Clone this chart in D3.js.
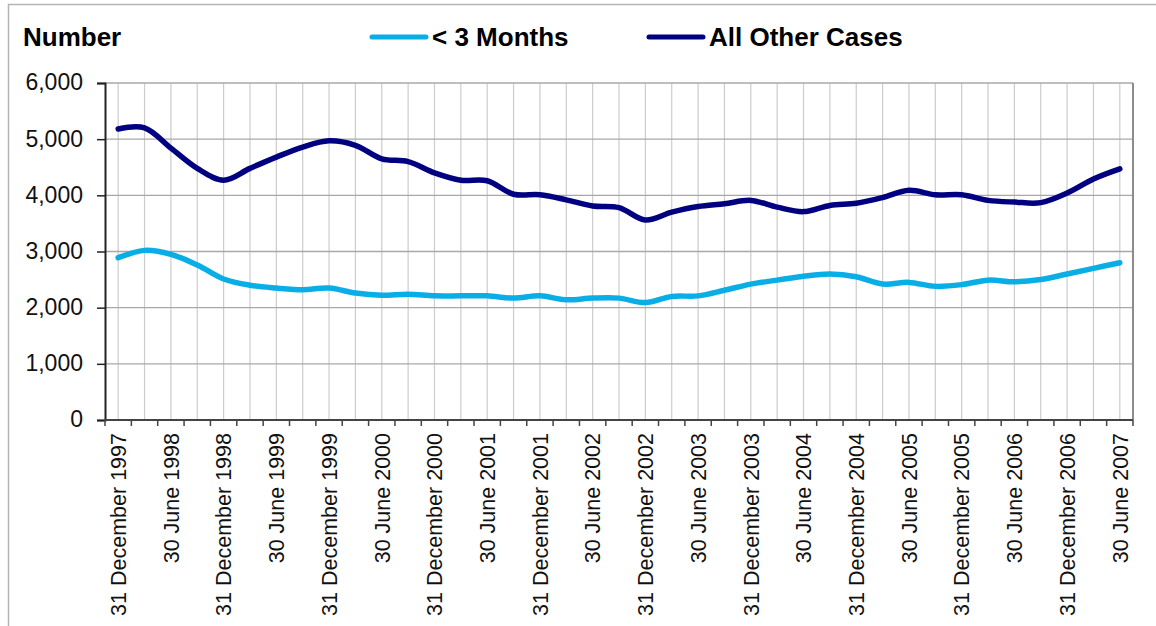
<!DOCTYPE html>
<html>
<head>
<meta charset="utf-8">
<script src="https://cdn.jsdelivr.net/npm/d3@7"></script>
<style>
    body { margin: 0; background: #fff; }
    svg { display: block; font-family: "Liberation Sans", Arial, sans-serif; }
</style>
</head>
<body>
<div class="chart-container"></div>
<script>
var quarters = [
    "31 December 1997", "31 March 1998", "30 June 1998", "30 September 1998",
    "31 December 1998", "31 March 1999", "30 June 1999", "30 September 1999",
    "31 December 1999", "31 March 2000", "30 June 2000", "30 September 2000",
    "31 December 2000", "31 March 2001", "30 June 2001", "30 September 2001",
    "31 December 2001", "31 March 2002", "30 June 2002", "30 September 2002",
    "31 December 2002", "31 March 2003", "30 June 2003", "30 September 2003",
    "31 December 2003", "31 March 2004", "30 June 2004", "30 September 2004",
    "31 December 2004", "31 March 2005", "30 June 2005", "30 September 2005",
    "31 December 2005", "31 March 2006", "30 June 2006", "30 September 2006",
    "31 December 2006", "31 March 2007", "30 June 2007"
];

var underThreeMonths = [
    2890, 3020, 2950, 2760, 2510, 2400, 2350, 2320, 2350, 2260,
    2220, 2240, 2210, 2210, 2210, 2170, 2210, 2140, 2170, 2170,
    2090, 2200, 2210, 2310, 2420, 2490, 2560, 2600, 2550, 2420,
    2450, 2380, 2410, 2490, 2460, 2500, 2600, 2700, 2800
];

var allOtherCases = [
    5180, 5200, 4840, 4480, 4270, 4480, 4680, 4860, 4970, 4890,
    4650, 4600, 4400, 4270, 4260, 4020, 4010, 3920, 3810, 3780,
    3560, 3700, 3800, 3850, 3910, 3790, 3710, 3820, 3860, 3960,
    4090, 4010, 4010, 3910, 3880, 3870, 4040, 4290, 4470
];

var seriesNames = ["< 3 Months", "All Other Cases"];
var seriesColors = ["#0aaee6", "#000080"];
var yTicks = [0, 1000, 2000, 3000, 4000, 5000, 6000];

var chart = {
    draw: function () {
        this.defineComponents();
        this.addFrame();
        this.addGrid();
        this.addAxises();
        this.addLines();
        this.addLegend();
    },
    defineComponents: function () {
        this.width = 1156;
        this.height = 626;
        this.plot = { left: 105, right: 1133, top: 83, bottom: 420 };

        this.svg = d3.select(".chart-container")
            .append("svg")
            .attr("width", this.width)
            .attr("height", this.height);

        this.xScale = d3.scalePoint()
            .domain(quarters)
            .range([this.plot.left, this.plot.right])
            .padding(0.5);

        this.yScale = d3.scaleLinear()
            .domain([0, 6000])
            .range([this.plot.bottom, this.plot.top]);

        this.series = [underThreeMonths, allOtherCases].map(function (values, i) {
            return {
                name: seriesNames[i],
                color: seriesColors[i],
                values: values.map(function (v, j) {
                    return { quarter: quarters[j], value: v };
                })
            };
        });
    },
    addFrame: function () {
        // outer chart border, runs off the right and bottom of the picture
        this.svg.append("rect")
            .attr("x", 8.5)
            .attr("y", 4.5)
            .attr("width", 1200)
            .attr("height", 700)
            .attr("fill", "none")
            .attr("stroke", "#b4b4b4")
            .attr("stroke-width", 1.5);
    },
    addGrid: function () {
        var that = this;
        var p = this.plot;

        // vertical grid lines sit on the data points
        this.svg.selectAll(".vgrid")
            .data(quarters)
            .enter()
            .append("line")
            .attr("x1", function (d) { return that.xScale(d); })
            .attr("x2", function (d) { return that.xScale(d); })
            .attr("y1", p.top)
            .attr("y2", p.bottom)
            .attr("stroke", "#cccccc")
            .attr("stroke-width", 1.2);

        this.svg.selectAll(".hgrid")
            .data(yTicks)
            .enter()
            .append("line")
            .attr("x1", p.left)
            .attr("x2", p.right)
            .attr("y1", function (d) { return that.yScale(d); })
            .attr("y2", function (d) { return that.yScale(d); })
            .attr("stroke", "#a8a8a8")
            .attr("stroke-width", 1.3);

        // right edge of the plot area
        this.svg.append("line")
            .attr("x1", p.right)
            .attr("x2", p.right)
            .attr("y1", p.top)
            .attr("y2", p.bottom)
            .attr("stroke", "#8c8c8c")
            .attr("stroke-width", 2);
    },
    addAxises: function () {
        var that = this;
        var p = this.plot;
        var step = this.xScale.step();

        // y axis
        var yAxis = d3.axisLeft(this.yScale)
            .tickValues(yTicks)
            .tickSize(8)
            .tickPadding(14)
            .tickFormat(d3.format(","));

        var yg = this.svg.append("g")
            .attr("transform", "translate(" + p.left + ",0)")
            .call(yAxis);
        yg.select(".domain").attr("stroke", "#222").attr("stroke-width", 2);
        yg.selectAll(".tick line").attr("stroke", "#222").attr("stroke-width", 1.5);
        yg.selectAll(".tick text")
            .attr("font-size", "23px")
            .attr("fill", "#111")
            .attr("dy", "0.3em");

        // x axis: ticks between categories, label on every second quarter
        this.svg.append("line")
            .attr("x1", p.left)
            .attr("x2", p.right)
            .attr("y1", p.bottom)
            .attr("y2", p.bottom)
            .attr("stroke", "#444")
            .attr("stroke-width", 2);

        this.svg.selectAll(".xtick")
            .data(d3.range(quarters.length + 1))
            .enter()
            .append("line")
            .attr("x1", function (d) { return p.left + d * step; })
            .attr("x2", function (d) { return p.left + d * step; })
            .attr("y1", p.bottom)
            .attr("y2", p.bottom + 6)
            .attr("stroke", "#444")
            .attr("stroke-width", 1.5);

        this.svg.selectAll(".xlabel")
            .data(quarters.filter(function (d, i) { return i % 2 === 0; }))
            .enter()
            .append("text")
            .attr("transform", function (d) {
                return "translate(" + that.xScale(d) + "," + (p.bottom + 13) + ") rotate(-90)";
            })
            .attr("dy", "0.36em")
            .style("text-anchor", "end")
            .attr("font-size", "21.5px")
            .attr("fill", "#111")
            .text(function (d) { return d; });

        // axis title
        this.svg.append("text")
            .attr("x", 23)
            .attr("y", 46)
            .attr("font-size", "26px")
            .attr("font-weight", "bold")
            .attr("fill", "#000")
            .text("Number");
    },
    addLines: function () {
        var that = this;
        var line = d3.line()
            .curve(d3.curveCatmullRom.alpha(0.5))
            .x(function (d) { return that.xScale(d.quarter); })
            .y(function (d) { return that.yScale(d.value); });

        this.svg.selectAll(".series")
            .data(this.series)
            .enter()
            .append("path")
            .attr("fill", "none")
            .attr("stroke", function (d) { return d.color; })
            .attr("stroke-width", 5.5)
            .attr("stroke-linecap", "round")
            .attr("stroke-linejoin", "round")
            .attr("d", function (d) { return line(d.values); });
    },
    addLegend: function () {
        var positions = [370, 647];
        var legend = this.svg.selectAll(".legend")
            .data(this.series)
            .enter()
            .append("g")
            .attr("transform", function (d, i) {
                return "translate(" + positions[i] + ",37)";
            });

        legend.append("line")
            .attr("x1", 2)
            .attr("x2", 56)
            .attr("stroke", function (d) { return d.color; })
            .attr("stroke-width", 5)
            .attr("stroke-linecap", "round");

        legend.append("text")
            .attr("x", 62)
            .attr("y", 9)
            .attr("font-size", "26px")
            .attr("font-weight", "bold")
            .attr("fill", "#000")
            .text(function (d) { return d.name; });
    }
};

chart.draw();
</script>
</body>
</html>
